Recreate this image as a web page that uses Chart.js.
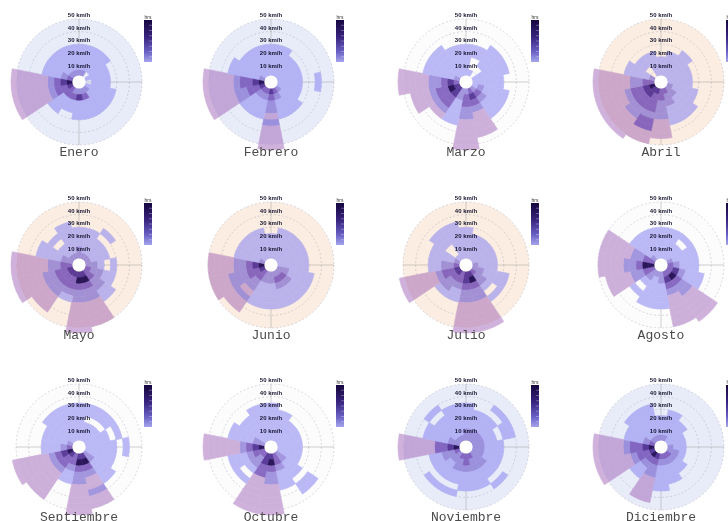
<!DOCTYPE html>
<html>
<head>
<meta charset="utf-8">
<script src="https://cdn.jsdelivr.net/npm/chart.js@4.4.0/dist/chart.umd.min.js"></script>
<style>
  html, body { margin: 0; padding: 0; width: 728px; height: 521px; overflow: hidden; background: #fff; }
  .panel { position: absolute; width: 180px; height: 180px; }
  .title { position: absolute; width: 180px; text-align: center; line-height: 16px;
           font-family: 'Liberation Mono', 'DejaVu Sans Mono', monospace; font-size: 13px; color: #4a4a4a; }
</style>
</head>
<body>
<script>
// Wind direction sectors, clockwise from north
const DIRECTIONS = ['N', 'NNE', 'NE', 'ENE', 'E', 'ESE', 'SE', 'SSE',
                    'S', 'SSW', 'SW', 'WSW', 'W', 'WNW', 'NW', 'NNW'];
// Each sector spans the same angle (degrees)
const SECTOR_WIDTH = DIRECTIONS.map(() => 22.5);
// Speed bin edges (km/h); one ring per bin
const SPEED_EDGES = [5, 10, 15, 20, 25, 30, 35, 40, 45, 50, 54];
const RADIAL_TICKS = [10, 20, 30, 40, 50];
const MONTHS = ['Enero', 'Febrero', 'Marzo', 'Abril', 'Mayo', 'Junio',
                'Julio', 'Agosto', 'Septiembre', 'Octubre', 'Noviembre', 'Diciembre'];

// Hours class per direction (rows) and speed bin (columns, 5-10 ... 50-54 km/h)
const enero = [
  [3,1,1,1,1,0,0,0,0,0], [3,1,1,1,1,0,0,0,0,0], [0,1,1,1,1,0,0,0,0,0], [1,1,1,1,0,0,0,0,0,0],
  [0,1,1,1,0,0,0,0,0,0], [1,1,1,1,1,0,0,0,0,0], [3,1,1,1,1,0,0,0,0,0], [3,4,1,1,1,0,0,0,0,0],
  [3,5,1,1,1,0,0,0,0,0], [3,4,1,1,0,0,0,0,0,0], [4,4,1,1,1,0,0,0,0,0], [5,4,4,3,2,2,2,2,2,2],
  [6,5,4,3,2,2,2,2,2,2], [4,3,1,1,1,0,0,0,0,0], [3,1,1,1,1,0,0,0,0,0], [3,1,1,1,1,0,0,0,0,0]
];
const febrero = [
  [1,1,1,1,1,0,0,0,0,0], [1,1,1,1,1,0,0,0,0,0], [1,1,1,1,0,0,0,0,0,0], [1,1,1,1,0,0,0,0,0,0],
  [1,1,1,1,0,0,1,0,0,0], [1,1,1,1,0,0,0,0,0,0], [3,1,1,1,1,0,0,0,0,0], [4,3,1,1,1,0,0,0,0,0],
  [5,4,3,3,2,3,2,2,2,2], [4,3,1,1,1,0,0,0,0,0], [4,3,1,1,1,0,0,0,0,0], [5,4,4,3,3,2,2,2,2,2],
  [6,5,4,4,3,2,2,2,2,2], [3,1,1,1,1,1,0,0,0,0], [1,1,1,1,1,0,0,0,0,0], [1,1,1,1,1,0,0,0,0,0]
];
const marzo = [
  [1,1,1,1,1,0,0,0,0,0], [1,0,0,1,1,0,0,0,0,0], [0,0,1,1,1,1,0,0,0,0], [1,1,1,1,1,1,0,0,0,0],
  [1,1,1,1,1,0,0,0,0,0], [1,3,1,1,1,1,0,0,0,0], [3,4,3,1,1,1,0,0,0,0], [4,5,4,3,2,2,2,2,0,0],
  [3,4,4,3,3,2,2,2,2,2], [3,3,1,1,1,1,0,0,0,0], [5,5,4,4,3,2,0,0,0,0], [5,6,4,4,3,2,2,2,0,0],
  [4,5,4,3,3,2,2,2,2,2], [3,1,1,1,1,1,0,0,0,0], [1,1,1,1,1,1,0,0,0,0], [1,1,1,1,1,0,0,0,0,0]
];
const abril = [
  [1,1,1,0,0,0,0,0,0,0], [1,1,1,1,0,0,0,0,0,0], [1,1,1,1,1,0,0,0,0,0], [1,1,1,1,0,0,0,0,0,0],
  [1,1,1,1,0,0,0,0,0,0], [3,1,1,1,1,0,0,0,0,0], [3,3,1,1,1,1,0,0,0,0], [4,3,3,1,1,1,0,0,0,0],
  [4,4,3,3,3,2,2,2,0,0], [5,4,4,4,3,4,4,2,2,0], [5,5,4,4,3,3,2,2,2,2], [6,5,4,4,3,2,2,2,2,2],
  [4,4,3,3,2,2,2,2,2,2], [3,1,1,1,1,0,0,0,0,0], [0,0,1,1,0,0,0,0,0,0], [1,1,1,1,0,0,0,0,0,0]
];
const mayo = [
  [3,3,1,1,1,0,0,0,0,0], [3,1,1,1,1,0,0,0,0,0], [3,1,1,1,0,1,0,0,0,0], [3,1,1,1,0,0,0,0,0,0],
  [3,3,1,0,1,0,0,0,0,0], [4,3,3,1,1,0,0,0,0,0], [4,4,3,3,1,1,0,0,0,0], [5,6,4,3,3,2,2,2,2,0],
  [5,6,4,3,3,2,2,2,2,2], [5,4,4,3,1,0,0,0,0,0], [5,4,4,3,3,2,2,2,0,0], [5,4,4,3,3,2,2,2,2,2],
  [4,4,3,3,2,2,2,2,2,2], [3,3,1,1,1,1,0,0,0,0], [3,1,1,0,1,0,0,0,0,0], [3,1,1,1,1,1,0,0,0,0]
];
const junio = [
  [1,1,1,1,0,0,0,0,0,0], [1,1,1,1,1,0,0,0,0,0], [1,1,1,1,1,0,0,0,0,0], [1,1,1,1,1,0,0,0,0,0],
  [1,1,1,1,1,0,0,0,0,0], [3,3,1,1,1,1,0,0,0,0], [3,4,3,1,1,1,0,0,0,0], [3,4,3,1,1,1,0,0,0,0],
  [3,3,1,1,1,1,0,0,0,0], [3,3,1,1,1,1,0,0,0,0], [4,4,3,3,2,3,2,2,0,0], [5,4,4,3,3,3,2,2,2,0],
  [6,5,4,3,3,2,2,2,2,0], [3,1,1,1,1,0,0,0,0,0], [1,1,1,1,1,0,0,0,0,0], [1,1,1,1,1,0,0,0,0,0]
];
const julio = [
  [1,1,1,1,1,0,0,0,0,0], [1,1,1,1,0,0,0,0,0,0], [1,1,1,1,0,0,0,0,0,0], [1,1,1,1,0,0,0,0,0,0],
  [3,1,1,1,0,0,0,0,0,0], [3,3,1,1,1,1,0,0,0,0], [4,3,3,1,0,1,0,0,0,0], [5,6,4,3,3,2,2,2,2,2],
  [5,5,4,3,3,2,2,2,2,2], [4,4,3,1,1,0,0,0,0,0], [5,4,3,3,1,0,0,0,0,0], [5,4,4,3,2,2,2,2,2,2],
  [4,3,3,1,1,0,0,0,0,0], [3,1,1,1,1,0,0,0,0,0], [1,0,0,1,1,1,0,0,0,0], [1,1,1,1,1,1,0,0,0,0]
];
const agosto = [
  [1,1,1,1,1,0,0,0,0,0], [1,1,1,1,1,0,0,0,0,0], [1,1,1,0,1,0,0,0,0,0], [3,1,1,1,1,0,0,0,0,0],
  [4,3,1,1,1,0,0,0,0,0], [4,5,3,1,1,1,0,0,0,0], [4,6,4,3,3,2,2,2,2,2], [4,5,4,3,2,2,2,2,2,0],
  [3,3,1,1,1,1,0,0,0,0], [3,1,1,1,1,1,0,0,0,0], [3,3,1,0,1,0,0,0,0,0], [4,4,3,3,2,2,2,2,0,0],
  [6,6,4,3,3,2,2,2,2,0], [4,4,3,3,2,2,2,2,2,0], [3,1,1,1,1,0,0,0,0,0], [1,1,1,1,1,0,0,0,0,0]
];
const septiembre = [
  [1,1,1,1,1,1,0,0,0,0], [1,1,1,0,1,1,0,0,0,0], [1,1,1,0,1,1,0,0,0,0], [1,1,1,1,0,1,0,0,0,0],
  [1,1,1,1,1,0,1,0,0,0], [1,1,1,1,1,0,0,0,0,0], [3,3,1,1,1,1,0,0,0,0], [5,6,4,3,2,2,3,2,2,0],
  [5,6,4,3,3,2,2,2,2,2], [4,4,3,1,1,0,0,0,0,0], [5,4,4,3,2,2,2,2,2,0], [6,5,4,3,2,2,2,2,2,2],
  [4,3,1,1,1,0,0,0,0,0], [3,1,1,1,1,0,0,0,0,0], [1,1,1,1,1,1,0,0,0,0], [1,1,1,1,1,1,0,0,0,0]
];
const octubre = [
  [1,1,1,1,1,1,0,0,0,0], [1,1,1,1,1,0,0,0,0,0], [1,1,1,1,0,0,0,0,0,0], [1,1,1,1,0,0,0,0,0,0],
  [1,1,1,1,0,0,0,0,0,0], [1,1,1,1,0,0,0,0,0,0], [3,3,1,1,1,0,1,1,0,0], [4,4,3,1,1,1,0,0,0,0],
  [5,6,4,3,3,2,2,2,2,2], [5,5,4,4,2,2,2,2,2,2], [4,3,3,1,0,1,0,0,0,0], [4,4,3,1,1,1,0,0,0,0],
  [6,5,4,3,2,2,2,2,2,2], [3,3,1,1,1,1,0,0,0,0], [1,1,1,1,1,0,0,0,0,0], [1,1,1,1,1,1,0,0,0,0]
];
const noviembre = [
  [3,3,1,1,1,1,0,0,0,0], [3,3,1,1,1,0,0,0,0,0], [3,3,1,1,1,0,1,0,0,0], [3,3,1,1,0,1,1,0,0,0],
  [3,3,1,1,1,0,0,0,0,0], [3,3,1,1,1,0,0,0,0,0], [3,3,3,1,1,0,1,0,0,0], [4,3,3,1,1,1,0,0,0,0],
  [4,4,3,1,1,1,0,0,0,0], [4,3,3,1,1,0,1,0,0,0], [3,3,1,1,1,0,1,0,0,0], [4,3,3,1,1,0,0,0,0,0],
  [6,5,4,4,2,2,2,2,2,2], [3,3,1,1,1,1,0,0,0,0], [3,1,1,1,1,0,1,0,0,0], [3,1,1,1,1,1,0,0,0,0]
];
const diciembre = [
  [3,1,1,1,0,0,0,0,0,0], [3,1,1,1,1,0,0,0,0,0], [1,1,1,1,0,0,0,0,0,0], [1,1,1,0,0,0,0,0,0,0],
  [3,1,1,0,0,0,0,0,0,0], [3,3,1,0,0,0,0,0,0,0], [4,3,1,1,0,0,0,0,0,0], [4,3,1,1,1,0,0,0,0,0],
  [4,3,1,1,1,1,0,0,0,0], [5,4,3,3,2,2,2,2,0,0], [6,4,3,1,1,0,0,0,0,0], [5,4,4,3,2,2,2,2,2,2],
  [6,5,4,4,3,2,2,2,2,2], [4,3,1,1,1,0,0,0,0,0], [3,1,1,1,1,1,0,0,0,0], [3,1,1,1,1,1,0,0,0,0]
];
const MONTH_DATA = [enero, febrero, marzo, abril, mayo, junio,
                    julio, agosto, septiembre, octubre, noviembre, diciembre];

// Styling: class colours as [r, g, b, alpha], laid over the panel background
const CLASS_COLORS = [
  null,
  [142, 140, 242, 0.60],
  [140, 70, 170, 0.42],
  [112, 92, 205, 0.64],
  [95, 55, 175, 0.74],
  [60, 25, 135, 0.84],
  [28, 6, 80, 0.93]
];
const BLUE = [232, 236, 248], PEACH = [251, 237, 225], PLAIN = [252, 252, 252], WHITE = [255, 255, 255];
const PANEL_BG = [BLUE, BLUE, PLAIN, PEACH, PEACH, PEACH, PEACH, PLAIN, PLAIN, PLAIN, BLUE, BLUE];
const COL_X = [79, 271, 466, 661];
const ROW_Y = [82, 265, 447];
const HALF = 90;
const LABEL_LIFT = 3.5;   // tick labels sit just above their ring
let labelPass = false;    // labels are only painted in the top layer

function rgb(c) { return 'rgb(' + c.map(Math.round).join(',') + ')'; }
function over(cls, bg) {
  const c = CLASS_COLORS[cls];
  if (!c) return 'rgba(0,0,0,0)';
  return rgb([0, 1, 2].map(j => c[j] * c[3] + bg[j] * (1 - c[3])));
}

// Hub, labels on top of the rings and the colour bar
const roseOverlay = {
  id: 'roseOverlay',
  afterDatasetsDraw(chart) {
    const rs = chart.scales.r;
    const ctx = chart.ctx;
    const cx = rs.xCenter, cy = rs.yCenter;
    ctx.save();
    ctx.beginPath();
    ctx.arc(cx, cy, rs.getDistanceFromCenterForValue(SPEED_EDGES[0]) + 0.3, 0, Math.PI * 2);
    ctx.fillStyle = '#ffffff';
    ctx.fill();
    ctx.restore();

    ctx.save();
    ctx.translate(0, -LABEL_LIFT);
    labelPass = true;
    rs.drawLabels();
    labelPass = false;
    ctx.restore();

    // colour bar
    const bx = cx + 65, by = cy - 62, bw = 8, bh = 42;
    const g = ctx.createLinearGradient(0, by, 0, by + bh);
    g.addColorStop(0, 'rgb(22,6,62)');
    g.addColorStop(0.4, 'rgb(55,35,125)');
    g.addColorStop(0.75, 'rgb(105,95,195)');
    g.addColorStop(1, 'rgb(165,165,238)');
    ctx.save();
    ctx.fillStyle = g;
    ctx.fillRect(bx, by, bw, bh);
    ctx.strokeStyle = 'rgba(255,255,255,0.6)';
    ctx.lineWidth = 0.5;
    for (let t = 1; t < 8; t++) {
      ctx.beginPath();
      ctx.moveTo(bx + bw - 3, by + t * bh / 8);
      ctx.lineTo(bx + bw, by + t * bh / 8);
      ctx.stroke();
    }
    ctx.fillStyle = '#333';
    ctx.font = '5px "Liberation Sans", Arial, sans-serif';
    ctx.textAlign = 'center';
    ctx.textBaseline = 'bottom';
    ctx.fillText('hrs', bx + bw / 2, by);
    ctx.restore();
  }
};

function makePanel(i) {
  const cx = COL_X[i % 4], cy = ROW_Y[Math.floor(i / 4)];
  const wrap = document.createElement('div');
  wrap.className = 'panel';
  wrap.style.left = (cx - HALF) + 'px';
  wrap.style.top = (cy - HALF) + 'px';
  const cv = document.createElement('canvas');
  cv.width = HALF * 2; cv.height = HALF * 2;
  wrap.appendChild(cv);
  document.body.appendChild(wrap);

  const title = document.createElement('div');
  title.className = 'title';
  title.textContent = MONTHS[i];
  title.style.left = (cx - HALF) + 'px';
  title.style.top = (cy + 63) + 'px';
  document.body.appendChild(title);

  const grid = MONTH_DATA[i];
  const bg = PANEL_BG[i];
  const datasets = [];
  // doughnut rings are listed from the outside in; ring thickness follows the bin width
  for (let k = SPEED_EDGES.length - 2; k >= 0; k--) {
    const under = SPEED_EDGES[k] >= 50 ? WHITE : bg;
    const colors = grid.map(row => over(row[k], under));
    datasets.push({
      data: SECTOR_WIDTH,
      backgroundColor: colors,
      borderColor: colors,
      borderWidth: 0.6,
      weight: (SPEED_EDGES[k + 1] - SPEED_EDGES[k]) / 5
    });
  }

  const chart = new Chart(cv, {
    type: 'doughnut',
    data: { labels: DIRECTIONS, datasets },
    options: {
      responsive: false,
      animation: false,
      events: [],
      rotation: -11.25,
      layout: { padding: 22 },
      plugins: { legend: { display: false }, tooltip: { enabled: false } },
      scales: {
        r: {
          type: 'radialLinear',
          min: 0,
          max: 50,
          backgroundColor: rgb(bg),
          grid: { circular: true, color: 'rgba(150,150,175,0.45)', lineWidth: 0.8 },
          border: { dash: [2, 2] },
          angleLines: {
            color: c => (c.index % 4 === 0 ? 'rgba(150,150,150,0.55)' : 'rgba(0,0,0,0)'),
            lineWidth: 0.8
          },
          pointLabels: { display: false },
          afterBuildTicks: s => { s.ticks = [{ value: 0 }].concat(RADIAL_TICKS.map(v => ({ value: v }))); },
          ticks: {
            showLabelBackdrop: false,
            color: () => (labelPass ? '#161630' : 'rgba(0,0,0,0)'),
            font: { size: 6, weight: 'bold', family: 'Liberation Sans' },
            callback: v => v + ' km/h'
          }
        }
      }
    },
    plugins: [roseOverlay]
  });

  const rs = chart.scales.r;
  const outer = rs.getDistanceFromCenterForValue(SPEED_EDGES[SPEED_EDGES.length - 1]);
  const inner = rs.getDistanceFromCenterForValue(SPEED_EDGES[0]);
  chart.data.datasets.forEach(d => { d.radius = outer; d.cutout = (inner / outer * 100) + '%'; });
  chart.update('none');
}

MONTHS.forEach((m, i) => makePanel(i));
</script>
</body>
</html>
